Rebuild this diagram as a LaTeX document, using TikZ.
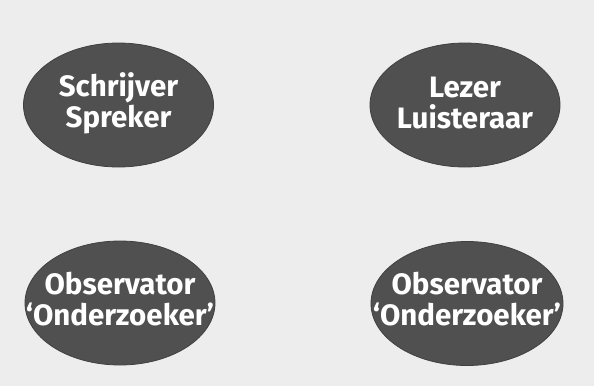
\documentclass[tikz,border=0pt]{standalone}
\usepackage{fontspec}
\setmainfont{Fira Sans}
\usetikzlibrary{shapes.geometric}
\definecolor{bgspeck}{HTML}{EDEDED}
\definecolor{ellfill}{HTML}{505050}
\tikzset{
  ell/.style={ellipse, fill=ellfill, draw=ellfill!80!black, line width=0.8pt,
    minimum width=190pt, minimum height=124pt, inner sep=0pt},
  lbl/.style={text=white, font=\fontsize{29.5}{31}\selectfont\bfseries, align=center, inner sep=0pt}
}
\begin{document}
\begin{tikzpicture}[x=1pt,y=-1pt]
  \fill[bgspeck] (0,0) rectangle (594,386);
  \useasboundingbox (0,0) rectangle (594,386);
  \node[ell] (sw) at (118.5,105) {};
  \node[ell] (lz) at (465,105) {};
  \node[ell] (ob1) at (120,303) {};
  \node[ell, minimum width=192pt] (ob2) at (467,303.5) {};
  \node[lbl] (tsw) at ([yshift=2pt]sw.center) {Schrijver\\Spreker};
  \node[lbl] (tlz) at ([yshift=2pt]lz.center) {Lezer\\Luisteraar};
  \node[lbl] (tob1) at ([yshift=4pt]ob1.center) {Observator\\‘Onderzoeker’};
  \node[lbl] (tob2) at ([yshift=4pt]ob2.center) {Observator\\‘Onderzoeker’};
\end{tikzpicture}
\end{document}
